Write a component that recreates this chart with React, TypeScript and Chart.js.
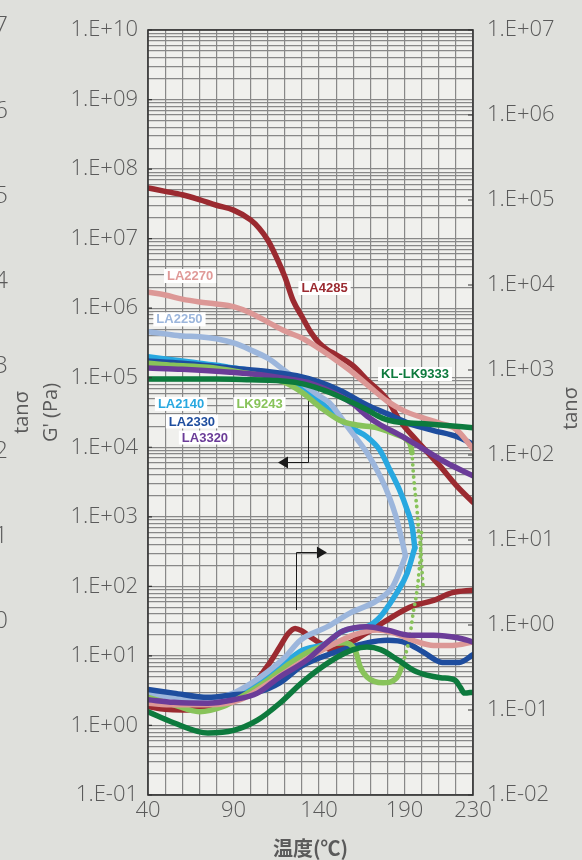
import React, { useEffect, useRef } from 'react';
import { Chart, registerables } from 'chart.js';

Chart.register(...registerables);

// ---------------- data ----------------
const xTickValues = [40, 90, 140, 190, 230];
const leftTickLabels = ['1.E-01', '1.E+00', '1.E+01', '1.E+02', '1.E+03', '1.E+04', '1.E+05', '1.E+06', '1.E+07', '1.E+08', '1.E+09', '1.E+10'];
const rightTickLabels = ['1.E-02', '1.E-01', '1.E+00', '1.E+01', '1.E+02', '1.E+03', '1.E+04', '1.E+05', '1.E+06', '1.E+07'];
const ghostTickLabels = ['7', '6', '5', '4', '3', '2', '1', '0'];
const xTitle = '温度(℃)';
const leftTitle = ['tanσ', "G' (Pa)"];
const rightTitle = 'tanσ';

// LA4285
const la4285_T = [40, 50, 60, 70, 80, 90, 100, 105, 110, 113, 120, 125, 130, 135, 140, 145, 150, 160, 168, 180, 187, 197, 210, 221, 230];
const la4285_G = [5.37e7, 4.79e7, 4.27e7, 3.63e7, 3.02e7, 2.57e7, 1.86e7, 1.41e7, 9.55e6, 6.92e6, 2.82e6, 1.26e6, 7.59e5, 4.57e5, 3.16e5, 2.51e5, 2.14e5, 1.48e5, 9.33e4, 4.79e4, 2.45e4, 1.26e4, 5.62e3, 2.69e3, 1.62e3];
const la4285_tanT = [40, 50, 60, 70, 84, 100, 111, 117, 122, 126, 130, 135, 141, 147, 158, 168, 180, 193, 207, 218, 230];
const la4285_tan = [0.110, 0.102, 0.100, 0.102, 0.123, 0.186, 0.355, 0.550, 0.794, 0.912, 0.851, 0.724, 0.603, 0.513, 0.617, 0.813, 1.15, 1.62, 1.95, 2.40, 2.57];

// LA2270
const la2270_T = [40, 50, 60, 70, 80, 90, 100, 110, 120, 130, 140, 150, 160, 170, 180, 190, 200, 210, 220, 230];
const la2270_G = [1.70e6, 1.55e6, 1.35e6, 1.23e6, 1.15e6, 1.05e6, 8.51e5, 6.31e5, 4.68e5, 3.72e5, 2.63e5, 1.78e5, 1.17e5, 7.24e4, 4.57e4, 3.31e4, 2.69e4, 2.24e4, 1.82e4, 9.55e3];
const la2270_tanT = [40, 55, 75, 94, 113, 131, 148, 160, 174, 183, 195, 207, 218, 230];
const la2270_tan = [0.120, 0.115, 0.115, 0.132, 0.224, 0.380, 0.589, 0.759, 0.871, 0.813, 0.661, 0.575, 0.575, 0.631];

// LA2250
const la2250_T = [40, 50, 60, 70, 80, 90, 100, 110, 120, 130, 140, 146, 158, 168, 176, 181, 185, 188, 190.5];
const la2250_G = [4.57e5, 4.27e5, 3.98e5, 3.89e5, 3.63e5, 3.16e5, 2.51e5, 1.91e5, 1.26e5, 8.32e4, 5.50e4, 4.37e4, 1.78e4, 8.32e3, 3.72e3, 1.95e3, 1.0e3, 5.13e2, 2.75e2];
const la2250_tanT = [40, 50, 60, 70, 80, 90, 100, 110, 120, 129, 145, 158, 174, 183, 187.5, 190.5];
const la2250_tan = [0.155, 0.145, 0.138, 0.135, 0.138, 0.158, 0.204, 0.282, 0.417, 0.661, 0.955, 1.38, 1.95, 2.82, 4.47, 6.46];

// LA2140
const la2140_T = [40, 50, 60, 70, 80, 90, 100, 110, 120, 130, 135, 148, 158, 168, 175.5, 181.5, 187, 191.5, 194.5, 196];
const la2140_G = [2.00e5, 1.86e5, 1.74e5, 1.62e5, 1.51e5, 1.38e5, 1.26e5, 1.10e5, 9.55e4, 7.59e4, 6.03e4, 3.09e4, 1.95e4, 1.41e4, 9.12e3, 4.68e3, 2.45e3, 1.26e3, 7.08e2, 3.55e2];
const la2140_tanT = [40, 60, 80, 90, 100, 110, 120, 130, 145, 152, 160, 168, 174, 177.5, 185.5, 191.5, 196];
const la2140_tan = [0.162, 0.145, 0.138, 0.148, 0.174, 0.240, 0.355, 0.501, 0.617, 0.813, 0.912, 0.955, 1.15, 1.38, 2.40, 4.07, 8.13];

// LA2330
const la2330_T = [40, 60, 88, 110, 127, 140, 152, 168, 180, 193, 207, 221, 230];
const la2330_G = [1.74e5, 1.62e5, 1.38e5, 1.23e5, 1.07e5, 8.71e4, 6.61e4, 4.07e4, 3.02e4, 2.19e4, 1.74e4, 1.41e4, 1.10e4];
const la2330_tanT = [40, 55, 75, 90, 104, 117, 130, 148, 168, 180, 191, 201, 212, 222, 230];
const la2330_tan = [0.174, 0.158, 0.141, 0.151, 0.162, 0.209, 0.331, 0.468, 0.617, 0.661, 0.617, 0.479, 0.363, 0.363, 0.447];

// LK9243
const lk9243_T = [40, 55, 75, 94, 110, 121, 130.5, 140.5, 152, 162, 174, 185.5, 191.5, 194.3, 195, 196, 197.3, 198, 199.5, 200.5, 201];
const lk9243_G = [1.62e5, 1.51e5, 1.41e5, 1.20e5, 1.02e5, 8.32e4, 6.03e4, 3.80e4, 2.45e4, 2.09e4, 1.91e4, 1.51e4, 1.26e4, 8.32e3, 4.68e3, 2.45e3, 1.26e3, 7.08e2, 3.31e2, 1.26e2, 8.91e1];
const lk9243_tanT = [40, 55, 70, 84, 94, 110, 123, 136.5, 146, 154, 161, 164, 168, 177.5, 185.5, 189, 193, 195, 197.3, 199, 200];
const lk9243_tan = [0.141, 0.115, 0.0955, 0.110, 0.141, 0.224, 0.355, 0.513, 0.589, 0.617, 0.513, 0.324, 0.245, 0.209, 0.240, 0.355, 0.724, 1.38, 2.57, 5.75, 13.2];

// LA3320
const la3320_T = [40, 60, 88, 110, 125, 135, 152, 160, 168, 176, 187, 202, 215, 230];
const la3320_G = [1.38e5, 1.32e5, 1.20e5, 1.07e5, 9.33e4, 8.32e4, 5.50e4, 4.17e4, 2.82e4, 2.09e4, 1.51e4, 9.12e3, 5.89e3, 3.89e3];
const la3320_tanT = [40, 55, 75, 90, 104, 117, 133, 142, 154, 168, 180, 193, 207, 221, 230];
const la3320_tan = [0.132, 0.123, 0.120, 0.132, 0.158, 0.245, 0.389, 0.562, 0.851, 0.955, 0.871, 0.759, 0.759, 0.708, 0.631];

// KL-LK9333
const kl9333_T = [40, 80, 100, 115, 127, 137, 147, 158, 168, 177, 187, 200, 211, 230];
const kl9333_G = [9.55e4, 9.55e4, 9.33e4, 9.12e4, 8.51e4, 7.41e4, 6.03e4, 4.57e4, 3.47e4, 2.63e4, 2.29e4, 2.19e4, 2.09e4, 1.91e4];
const kl9333_tanT = [40, 55, 75, 90, 104, 117, 131, 148, 160, 168, 176, 186, 197, 211, 219.5, 222.5, 225, 230];
const kl9333_tan = [0.0955, 0.0708, 0.0537, 0.0575, 0.0759, 0.120, 0.219, 0.389, 0.513, 0.550, 0.513, 0.389, 0.282, 0.240, 0.224, 0.186, 0.158, 0.162];

// ---------------- styles ----------------
const PAGE_BG = '#dfe0dc';
const PLOT_BG = '#f0f0ed';
const GRID = '#888888';
const TEXT = '#5a5a5a';
const C = {
  LA4285: '#9b2a30',
  LA2270: '#dc9896',
  LA2250: '#9cb6dc',
  LA2140: '#28a8e0',
  LA2330: '#1e4d9e',
  LK9243: '#88c35a',
  LA3320: '#6b3c98',
  KL9333: '#0d7a3d',
};

// in-plot series name tags (anchored in data units: temperature, G')
const nameTags = [
  { text: 'LA2270', T: 64.6, G: 2.9e6, color: '#e09a98' },
  { text: 'LA4285', T: 143.2, G: 1.95e6, color: C.LA4285 },
  { text: 'LA2250', T: 58.4, G: 6.9e5, color: C.LA2250 },
  { text: 'KL-LK9333', T: 196.1, G: 1.13e5, color: C.KL9333 },
  { text: 'LA2140', T: 59.3, G: 4.2e4, color: C.LA2140 },
  { text: 'LK9243', T: 105.2, G: 4.2e4, color: C.LK9243 },
  { text: 'LA2330', T: 65.7, G: 2.35e4, color: C.LA2330 },
  { text: 'LA3320', T: 73.3, G: 1.38e4, color: C.LA3320 },
];
const arrowG = { T: 133.7, from: 8.4e4, to: 6.2e3, tipT: 116.0 };
const arrowTan = { T: 126.5, from: 1.5, to: 7.23, tipT: 144.6 };

function isDecade(v: number) {
  const k = Math.log10(v);
  return Math.abs(k - Math.round(k)) < 1e-6;
}

function mk(label: string, xs: number[], ys: number[], color: string, axis: string, dotFrom?: number) {
  const ds: any = {
    label,
    data: xs.map((x, i) => ({ x, y: ys[i] })),
    yAxisID: axis,
    borderColor: color,
    backgroundColor: color,
    borderWidth: 5.5,
    pointRadius: 0,
    fill: false,
    cubicInterpolationMode: 'monotone',
    borderCapStyle: 'round',
    borderJoinStyle: 'round',
  };
  if (dotFrom !== undefined) {
    ds.segment = {
      borderDash: (c: any) => (c.p0.parsed.x >= dotFrom ? [0.01, 6] : undefined),
      borderWidth: (c: any) => (c.p0.parsed.x >= dotFrom ? 3.8 : undefined),
    };
  }
  return ds;
}

function drawArrow(ctx: CanvasRenderingContext2D, x0: number, y0: number, y1: number, xTip: number) {
  const dir = Math.sign(xTip - x0);
  const head = 10;
  ctx.beginPath();
  ctx.moveTo(x0, y0);
  ctx.lineTo(x0, y1);
  ctx.lineTo(xTip - dir * head, y1);
  ctx.stroke();
  ctx.beginPath();
  ctx.moveTo(xTip, y1);
  ctx.lineTo(xTip - dir * head, y1 - 6);
  ctx.lineTo(xTip - dir * head, y1 + 6);
  ctx.closePath();
  ctx.fill();
}

const decorPlugin = {
  id: 'decor',
  beforeDraw(chart: any) {
    const { ctx, chartArea: a } = chart;
    ctx.save();
    ctx.fillStyle = PLOT_BG;
    ctx.fillRect(a.left, a.top, a.right - a.left, a.bottom - a.top);
    ctx.restore();
  },
  beforeDatasetsDraw(chart: any) {
    const { ctx, scales } = chart;
    const x = scales.x, yG = scales.yG, yT = scales.yT;
    ctx.save();
    ctx.strokeStyle = '#1a1a1a';
    ctx.fillStyle = '#1a1a1a';
    ctx.lineWidth = 1;
    drawArrow(ctx, Math.round(x.getPixelForValue(arrowG.T)) + 0.5, yG.getPixelForValue(arrowG.from), Math.round(yG.getPixelForValue(arrowG.to)) + 0.5, x.getPixelForValue(arrowG.tipT));
    drawArrow(ctx, Math.round(x.getPixelForValue(arrowTan.T)) + 0.5, yT.getPixelForValue(arrowTan.from), Math.round(yT.getPixelForValue(arrowTan.to)) + 0.5, x.getPixelForValue(arrowTan.tipT));
    ctx.restore();
  },
  afterDatasetsDraw(chart: any) {
    const { ctx, chartArea: a, scales } = chart;
    const x = scales.x, yG = scales.yG, yT = scales.yT;
    ctx.save();
    ctx.font = 'bold 13px "Liberation Sans", Arial, sans-serif';
    ctx.textAlign = 'center';
    ctx.textBaseline = 'middle';
    for (const t of nameTags) {
      const px = x.getPixelForValue(t.T);
      const py = yG.getPixelForValue(t.G);
      const w = ctx.measureText(t.text).width;
      ctx.fillStyle = '#ffffff';
      ctx.fillRect(px - w / 2 - 3, py - 7, w + 6, 14);
      ctx.fillStyle = t.color;
      ctx.fillText(t.text, px, py + 0.5);
    }
    // frame
    ctx.strokeStyle = '#333333';
    ctx.lineWidth = 1.6;
    ctx.strokeRect(a.left, a.top, a.right - a.left, a.bottom - a.top);
    // inward decade ticks
    ctx.lineWidth = 1.2;
    ctx.beginPath();
    for (const t of yG.ticks) {
      if (!isDecade(t.value)) continue;
      const py = yG.getPixelForValue(t.value);
      ctx.moveTo(a.left, py);
      ctx.lineTo(a.left + 4, py);
    }
    for (const t of yT.ticks) {
      const py = yT.getPixelForValue(t.value);
      ctx.moveTo(a.right - 5, py);
      ctx.lineTo(a.right, py);
    }
    ctx.stroke();
    ctx.restore();
  },
  afterDraw(chart: any) {
    const { ctx, chartArea: a, scales } = chart;
    const yT = scales.yT;
    ctx.save();
    ctx.fillStyle = TEXT;
    // cut-off axis digits of the neighbouring chart at the left edge
    ctx.font = '300 24px "Open Sans", sans-serif';
    ctx.textAlign = 'right';
    ctx.textBaseline = 'middle';
    ghostTickLabels.forEach((s, i) => {
      const py = yT.getPixelForValue(Math.pow(10, 7 - i));
      ctx.fillText(s, 8, py - 4);
    });
    // right axis title, reading bottom-to-top
    ctx.font = '20px "Open Sans", sans-serif';
    ctx.textAlign = 'center';
    ctx.translate(yT.right - 11, (a.top + a.bottom) / 2 - 4);
    ctx.rotate(-Math.PI / 2);
    ctx.fillText(rightTitle, 0, 0);
    ctx.restore();
  },
};

const datasets = [
  mk('KL-LK9333 G', kl9333_T, kl9333_G, C.KL9333, 'yG'),
  mk('KL-LK9333 tan', kl9333_tanT, kl9333_tan, C.KL9333, 'yT'),
  mk('LA3320 G', la3320_T, la3320_G, C.LA3320, 'yG'),
  mk('LA3320 tan', la3320_tanT, la3320_tan, C.LA3320, 'yT'),
  mk('LA2270 G', la2270_T, la2270_G, C.LA2270, 'yG'),
  mk('LA2270 tan', la2270_tanT, la2270_tan, C.LA2270, 'yT'),
  mk('LK9243 G', lk9243_T, lk9243_G, C.LK9243, 'yG', 194.3),
  mk('LK9243 tan', lk9243_tanT, lk9243_tan, C.LK9243, 'yT', 189),
  mk('LA2330 G', la2330_T, la2330_G, C.LA2330, 'yG'),
  mk('LA2330 tan', la2330_tanT, la2330_tan, C.LA2330, 'yT'),
  mk('LA2250 G', la2250_T, la2250_G, C.LA2250, 'yG'),
  mk('LA2250 tan', la2250_tanT, la2250_tan, C.LA2250, 'yT'),
  mk('LA2140 G', la2140_T, la2140_G, C.LA2140, 'yG'),
  mk('LA2140 tan', la2140_tanT, la2140_tan, C.LA2140, 'yT'),
  mk('LA4285 G', la4285_T, la4285_G, C.LA4285, 'yG'),
  mk('LA4285 tan', la4285_tanT, la4285_tan, C.LA4285, 'yT'),
];

const tickFont = { family: '"Open Sans", sans-serif', size: 22, weight: '300' as any };

export default function App() {
  const ref = useRef<HTMLCanvasElement>(null);
  useEffect(() => {
    if (!ref.current) return;
    const chart = new Chart(ref.current, {
      type: 'line',
      data: { datasets },
      plugins: [decorPlugin],
      options: {
        responsive: false,
        animation: false,
        devicePixelRatio: 1,
        layout: { padding: { top: 30, left: 0, right: 0, bottom: 0 } },
        plugins: { legend: { display: false }, tooltip: { enabled: false } },
        scales: {
          x: {
            type: 'linear',
            position: 'bottom',
            min: 40,
            max: 230,
            border: { display: false },
            grid: { color: GRID, lineWidth: 1.2, drawTicks: false },
            ticks: {
              stepSize: 10,
              autoSkip: false,
              maxRotation: 0,
              padding: 3,
              color: TEXT,
              font: tickFont,
              callback: (v: any) => (xTickValues.includes(Number(v)) ? String(v) : ''),
            },
            title: {
              display: true,
              text: xTitle,
              color: TEXT,
              font: { family: '"Noto Sans CJK JP", sans-serif', size: 20, weight: 'bold' },
              padding: { top: 0, bottom: 0 },
            },
            afterFit: (s: any) => { s.height = 65; },
          },
          yG: {
            type: 'logarithmic',
            position: 'left',
            min: 0.1,
            max: 1e10,
            border: { display: false },
            grid: { color: GRID, lineWidth: 1.2, drawTicks: false },
            afterBuildTicks: (s: any) => {
              const ticks: any[] = [];
              for (let e = -1; e < 10; e++) {
                for (let m = 1; m <= 9; m++) ticks.push({ value: m * Math.pow(10, e) });
              }
              ticks.push({ value: 1e10 });
              s.ticks = ticks;
            },
            ticks: {
              autoSkip: false,
              padding: 10,
              color: TEXT,
              font: tickFont,
              callback: (v: any) => (isDecade(Number(v)) ? leftTickLabels[Math.round(Math.log10(Number(v))) + 1] : ''),
            },
            title: {
              display: true,
              text: leftTitle,
              color: TEXT,
              font: { family: '"Open Sans", sans-serif', size: 20, lineHeight: 1.45 },
              padding: { top: 8, bottom: 0 },
            },
            afterFit: (s: any) => { s.width = 148; },
          },
          yT: {
            type: 'logarithmic',
            position: 'right',
            min: 0.01,
            max: 1e7,
            border: { display: false },
            grid: { display: false, drawOnChartArea: false, drawTicks: false },
            afterBuildTicks: (s: any) => {
              const ticks: any[] = [];
              for (let e = -2; e <= 7; e++) ticks.push({ value: Math.pow(10, e) });
              s.ticks = ticks;
            },
            ticks: {
              autoSkip: false,
              padding: 14,
              color: TEXT,
              font: tickFont,
              callback: (v: any) => rightTickLabels[Math.round(Math.log10(Number(v))) + 2],
            },
            afterFit: (s: any) => { s.width = 109; },
          },
        },
      } as any,
    });
    return () => chart.destroy();
  }, []);
  return (
    <div style={{ position: 'fixed', left: 0, top: 0, width: 582, height: 860, background: PAGE_BG, overflow: 'hidden' }}>
      <canvas ref={ref} width={582} height={860} style={{ display: 'block', width: 582, height: 860 }} />
    </div>
  );
}
